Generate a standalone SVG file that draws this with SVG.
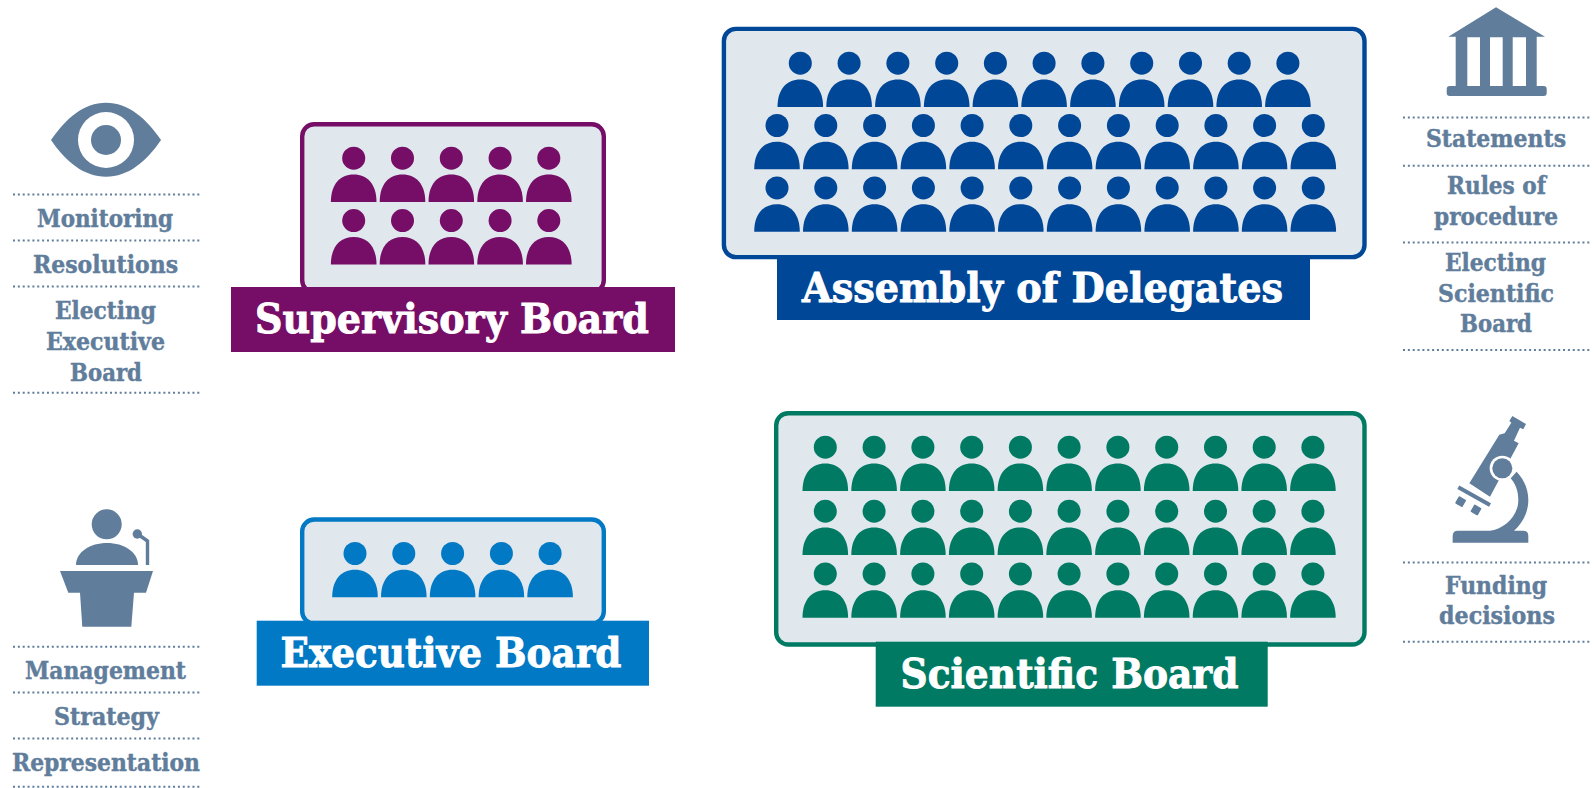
<svg xmlns="http://www.w3.org/2000/svg" xmlns:xlink="http://www.w3.org/1999/xlink" width="1595" height="788" viewBox="0 0 1595 788">
<style>
text{font-family:"DejaVu Serif","Liberation Serif",serif;font-weight:700}
.b{font-size:41px;fill:#fff;stroke:#fff;stroke-width:.9px}
.s{font-size:24px;fill:#607d9b;stroke:#607d9b;stroke-width:.45px}
.box{fill:#e0e7ed;stroke-width:4.4}
.dot{stroke:#607d9b;stroke-width:2;stroke-dasharray:2 2.85;fill:none}
.ic{fill:#607d9b}
.pur{fill:#760d66}
.nav{fill:#004797}
.blu{fill:#0279c4}
.grn{fill:#007a63}
</style>
<defs>
<g id="p"><circle cx="0" cy="-43.8" r="11.5"/><path d="M-22.8 0C-22.8-18-13.5-27.5 0-27.5C13.500-27.5 22.8-18 22.8 0Z"/></g>
<g id="r5"><use href="#p" x="0"/><use href="#p" x="48.8"/><use href="#p" x="97.6"/><use href="#p" x="146.4"/><use href="#p" x="195.1"/></g>
<g id="r11"><use href="#r5" x="0"/><use href="#r5" x="243.8"/><use href="#p" x="487.6"/></g>
<g id="r12"><use href="#r11" x="0"/><use href="#p" x="536.3"/></g>
</defs>
<rect width="1595" height="788" fill="#fff"/>
<g id="connectors"/>
<g id="supervisory-board">
<rect class="box" style="stroke:#760d66" x="302.2" y="124.2" width="301.6" height="168" rx="12"/>
<g class="pur"><use href="#r5" x="353.7" y="202"/><use href="#r5" x="353.7" y="264.4"/></g>
<rect class="pur" x="231" y="287" width="444" height="65"/>
<text class="b" x="255" y="333" textLength="394" lengthAdjust="spacingAndGlyphs">Supervisory Board</text>
</g>
<g id="executive-board">
<rect class="box" style="stroke:#0279c4" x="302.2" y="519.5" width="301.6" height="104" rx="12"/>
<g class="blu"><use href="#r5" x="355" y="597.3"/></g>
<rect class="blu" x="256.7" y="620.7" width="392.3" height="65"/>
<text class="b" x="280.5" y="666.7" textLength="341" lengthAdjust="spacingAndGlyphs">Executive Board</text>
</g>
<g id="assembly-of-delegates">
<rect class="box" style="stroke:#004797" x="723.9" y="28.9" width="640.6" height="228.2" rx="12"/>
<g class="nav"><use href="#r11" x="800.3" y="107"/><use href="#r12" x="777" y="169.3"/><use href="#r12" x="777" y="231.7"/></g>
<rect class="nav" x="777" y="255" width="533" height="65"/>
<text class="b" x="802" y="301.7" textLength="481" lengthAdjust="spacingAndGlyphs">Assembly of Delegates</text>
</g>
<g id="scientific-board">
<rect class="box" style="stroke:#007a63" x="776.2" y="413.2" width="588.300" height="231.300" rx="12"/>
<g class="grn"><use href="#r11" x="825.3" y="491"/><use href="#r11" x="825.3" y="555"/><use href="#r11" x="825.3" y="617.7"/></g>
<rect class="grn" x="875.7" y="641.7" width="392" height="65"/>
<text class="b" x="900.5" y="688.3" textLength="338" lengthAdjust="spacingAndGlyphs">Scientific Board</text>
</g>
<g id="monitoring-list">
<path class="ic" d="M51 140C66 118 84 102.7 106 102.7C128 102.7 146 118 161 140C146 162 128 176.7 106 176.7C84 176.7 66 162 51 140Z"/>
<circle cx="106" cy="140" r="28" fill="#fff"/><circle class="ic" cx="106" cy="140" r="15"/>
<path class="dot" d="M13 194.5H200M13 240.5H200M13 286.5H200M13 392.8H200"/>
<text class="s" x="37" y="226.7" textLength="136" lengthAdjust="spacingAndGlyphs">Monitoring</text>
<text class="s" x="33" y="273.3" textLength="145" lengthAdjust="spacingAndGlyphs">Resolutions</text>
<text class="s" x="55" y="319" textLength="101" lengthAdjust="spacingAndGlyphs">Electing</text>
<text class="s" x="46" y="350" textLength="119" lengthAdjust="spacingAndGlyphs">Executive</text>
<text class="s" x="70" y="380.7" textLength="72" lengthAdjust="spacingAndGlyphs">Board</text>
</g>
<g id="management-list">
<circle class="ic" cx="106.7" cy="524.3" r="15"/>
<path class="ic" d="M76 565C76 552 90 543 107 543C124 543 138 552 138 565Z"/>
<circle class="ic" cx="137.3" cy="534" r="4.7"/>
<path d="M139 535L147.500 541V565" fill="none" stroke="#607d9b" stroke-width="3.400"/>
<path class="ic" d="M60 571H153L146 592.7H134L131.3 626.7H82.3L80 592.7H68.3Z"/>
<path class="dot" d="M13 646.7H200M13 692.5H200M13 738.5H200M13 786.7H200"/>
<text class="s" x="25" y="679" textLength="161" lengthAdjust="spacingAndGlyphs">Management</text>
<text class="s" x="54" y="724.7" textLength="105" lengthAdjust="spacingAndGlyphs">Strategy</text>
<text class="s" x="12" y="771" textLength="188" lengthAdjust="spacingAndGlyphs">Representation</text>
</g>
<g id="statements-list">
<path class="ic" fill-rule="evenodd" d="M1496 7.3L1545 36.7H1536.7V86H1543.700Q1546.700 86 1546.700 89V93Q1546.700 96 1543.700 96H1449.700Q1446.700 96 1446.700 93V89Q1446.700 86 1449.700 86H1455.700V36.700H1448.300ZM1467.300 37.300V86H1480V37.300ZM1490 37.300V86H1502.700V37.300ZM1512.700 37.300V86H1526V37.300Z"/>
<path class="dot" d="M1403 117.5H1590M1403 165.8H1590M1403 242.5H1590M1403 350H1590"/>
<text class="s" x="1426" y="147.3" textLength="140" lengthAdjust="spacingAndGlyphs">Statements</text>
<text class="s" x="1447" y="194.3" textLength="99" lengthAdjust="spacingAndGlyphs">Rules of</text>
<text class="s" x="1434" y="225" textLength="124" lengthAdjust="spacingAndGlyphs">procedure</text>
<text class="s" x="1445" y="270.7" textLength="101" lengthAdjust="spacingAndGlyphs">Electing</text>
<text class="s" x="1438" y="301.7" textLength="116" lengthAdjust="spacingAndGlyphs">Scientific</text>
<text class="s" x="1460" y="331.7" textLength="72" lengthAdjust="spacingAndGlyphs">Board</text>
</g>
<g id="funding-list">
<g transform="translate(1390 400) scale(.3333)">
<path class="ic" d="M188 428V408Q188 392 204 392H300C340 388 385 350 385 300C385 270 375 250 362 235L380 215C402 238 415 268 415 300C415 340 395 372 372 392H400Q415 392 415 408V428Z"/>
<path class="ic" d="M367 48L408 72L400 88L390 83L372 122L386 130L300 290L238 250L328 104L344 100L364 68L358 63Z"/>
<circle cx="337" cy="205" r="38" fill="#fff"/>
<circle class="ic" cx="337" cy="205" r="30"/>
<path d="M205 262L300 315" stroke="#607d9b" stroke-width="12" fill="none"/>
<rect class="ic" x="-12.500" y="-12.500" width="25" height="25" rx="3" transform="translate(212 305) rotate(30)"/>
<rect class="ic" x="-12.500" y="-12.500" width="25" height="25" rx="3" transform="translate(258 330) rotate(30)"/>
</g>
<path class="dot" d="M1403 562.5H1590M1403 641.8H1590"/>
<text class="s" x="1445" y="594.3" textLength="102" lengthAdjust="spacingAndGlyphs">Funding</text>
<text class="s" x="1439" y="624" textLength="116" lengthAdjust="spacingAndGlyphs">decisions</text>
</g>
</svg>
